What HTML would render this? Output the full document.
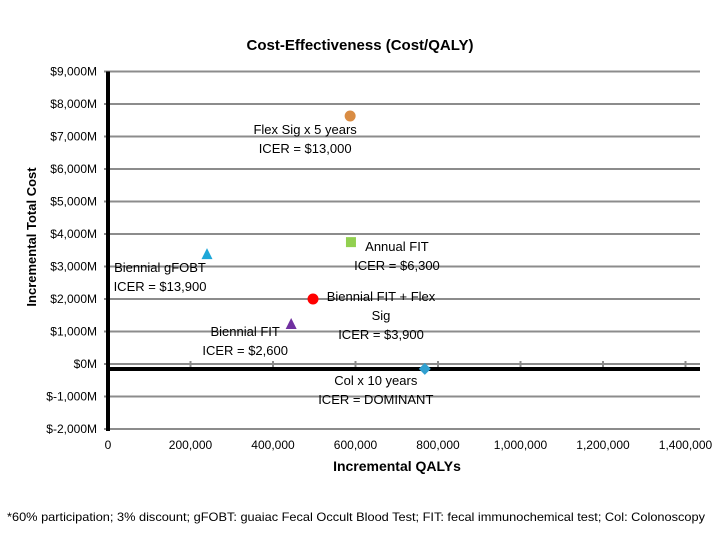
<!DOCTYPE html>
<html><head><meta charset="utf-8"><style>
body{margin:0;background:#fff;font-family:"Liberation Sans",sans-serif;}
svg text{font-family:"Liberation Sans",sans-serif;}
</style></head><body>
<svg width="720" height="540" xmlns="http://www.w3.org/2000/svg">
<rect width="720" height="540" fill="#fff"/>
<text x="360" y="50" text-anchor="middle" font-size="15" font-weight="bold">Cost-Effectiveness (Cost/QALY)</text>
<g id="grid"></g>
<g id="yticks"></g>
<g id="xticks"></g>
<g id="pts"></g>
<g id="labels" font-size="13"></g>
<text transform="translate(36,237) rotate(-90)" text-anchor="middle" font-size="13" font-weight="bold">Incremental Total Cost</text>
<text x="397" y="471" text-anchor="middle" font-size="14" font-weight="bold">Incremental QALYs</text>
<text x="356" y="521" text-anchor="middle" font-size="12" textLength="698" lengthAdjust="spacingAndGlyphs">*60% participation; 3% discount;  gFOBT: guaiac Fecal Occult Blood Test; FIT: fecal immunochemical test; Col: Colonoscopy</text>
</svg>
<script>
const yTicks=[9000,8000,7000,6000,5000,4000,3000,2000,1000,0,-1000,-2000];
const xTicks=[0,200000,400000,600000,800000,1000000,1200000,1400000];
const xTickLabels=["0","200,000","400,000","600,000","800,000","1,000,000","1,200,000","1,400,000"];
const names=["Flex Sig x 5 years","Annual FIT","Biennial gFOBT","Biennial FIT + Flex Sig","Biennial FIT","Col x 10 years"];
const qalys=[587000,589000,240000,497000,444000,768000];
const costs=[7630,3750,3350,2000,1200,-150];
const icers=["$13,000","$6,300","$13,900","$3,900","$2,600","DOMINANT"];
const NS="http://www.w3.org/2000/svg";
const X=v=>108+v/200000*82.5;
const Y=v=>364-v/1000*32.5;
function mk(tag,attrs,parent,txt){const e=document.createElementNS(NS,tag);for(const k in attrs)e.setAttribute(k,attrs[k]);if(txt!==undefined)e.textContent=txt;parent.appendChild(e);return e;}
const grid=document.getElementById('grid'),yt=document.getElementById('yticks'),xt=document.getElementById('xticks'),pts=document.getElementById('pts'),lab=document.getElementById('labels');
yTicks.forEach(v=>{
 const l=mk('line',{x1:104,x2:700,y1:Y(v),y2:Y(v),stroke:'#8c8c8c','stroke-width':2},grid);
 
 
 const t=mk('text',{x:97,y:Y(v)+4,'text-anchor':'end','font-size':12},yt,'$'+v.toLocaleString('en-US')+'M');
 
 
});
xTicks.forEach((v,i)=>{
 if(i>0){const m=mk('line',{x1:X(v),x2:X(v),y1:Y(0)-3,y2:Y(0)+3,stroke:'#8c8c8c','stroke-width':2},xt);
 
 }
 const t=mk('text',{x:X(v),y:449,'text-anchor':'middle','font-size':12},xt,xTickLabels[i]);
 
 
});
const ya=mk('line',{x1:108,x2:108,y1:Y(9000),y2:Y(-2000)+2,stroke:'#000','stroke-width':4},grid);


const xa=mk('line',{x1:106,x2:700,y1:Y(0)+5,y2:Y(0)+5,stroke:'#000','stroke-width':4},grid);


const shapes=['circle','square','tri','circle','tri','diamond'];
const colors=['#d98c43','#92d050','#1ea7d8','#ff0000','#7030a0','#31a0d0'];
qalys.forEach((q,i)=>{
 const cx=X(q),cy=Y(costs[i]);let e;
 if(shapes[i]==='circle')e=mk('circle',{cx,cy,r:5.5,fill:colors[i]},pts);
 else if(shapes[i]==='square')e=mk('rect',{x:cx-5,y:cy-5,width:10,height:10,fill:colors[i]},pts);
 else if(shapes[i]==='tri')e=mk('polygon',{points:`${cx},${cy-7} ${cx-5.5},${cy+4} ${cx+5.5},${cy+4}`,fill:colors[i]},pts);
 else e=mk('polygon',{points:`${cx},${cy-6} ${cx+6},${cy} ${cx},${cy+6} ${cx-6},${cy}`,fill:colors[i]},pts);
 
 
});
const off=[[-45,18],[46,9],[-47,17],[68,2],[-46,11],[-49,16]];
qalys.forEach((q,i)=>{
 const cx=X(q)+off[i][0],cy=Y(costs[i])+off[i][1];
 let lines=[names[i],'ICER = '+icers[i]];
 if(i===3)lines=['Biennial FIT + Flex','Sig','ICER = $3,900'];
 const t=mk('text',{x:cx,y:cy,'text-anchor':'middle'},lab);
 
 
 lines.forEach((s,j)=>mk('tspan',{x:cx,dy:j?19:0},t,s));
});
</script>
</body></html>
